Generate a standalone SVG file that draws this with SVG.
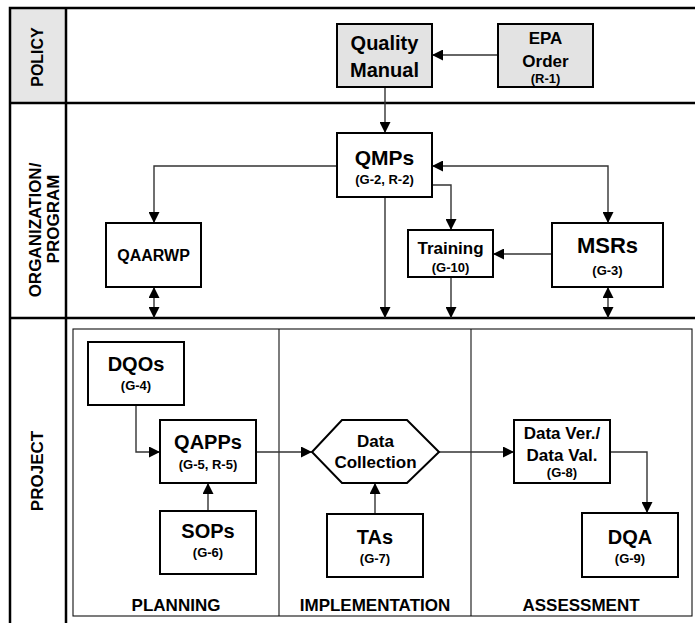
<svg xmlns="http://www.w3.org/2000/svg" width="695" height="623" viewBox="0 0 695 623">
<defs>
<marker id="ah" markerUnits="userSpaceOnUse" markerWidth="11" markerHeight="11" refX="10" refY="5" orient="auto-start-reverse" viewBox="0 0 10 10">
<path d="M0,0 L10,5 L0,10 z" fill="#000"/>
</marker>
<style>
.frame{fill:none;stroke:#000;stroke-width:2.5}
.inner{fill:none;stroke:#111;stroke-width:1.1}
.box{fill:#fff;stroke:#000;stroke-width:2}
.grey{fill:#e3e3e3;stroke:#000;stroke-width:2}
.con{fill:none;stroke:#333;stroke-width:1.4}
.end{marker-end:url(#ah)}
.both{marker-start:url(#ah);marker-end:url(#ah)}
text{font-family:"Liberation Sans",Arial,sans-serif;font-weight:bold;fill:#000;text-anchor:middle}
.t20{font-size:20px}
.t17{font-size:17px}
.t16{font-size:16px}
.t13{font-size:13px}
.lab{font-size:17px}
</style>
</defs>

<g id="frame">
<rect x="10" y="8" width="56" height="95" fill="#e6e6e6"/>
<rect class="frame" x="10" y="8" width="700" height="640"/>
<line class="frame" x1="66" y1="8" x2="66" y2="623"/>
<line class="frame" x1="10" y1="103" x2="695" y2="103"/>
<line class="frame" x1="10" y1="318" x2="695" y2="318"/>
<rect class="inner" x="73" y="329" width="619" height="287"/>
<line class="inner" x1="279" y1="329" x2="279" y2="616"/>
<line class="inner" x1="471" y1="329" x2="471" y2="616"/>
<text class="t16" transform="translate(43,57) rotate(-90)">POLICY</text>
<text class="lab" transform="translate(41,230) rotate(-90)">ORGANIZATION/</text>
<text class="lab" transform="translate(59,219) rotate(-90)">PROGRAM</text>
<text class="lab" transform="translate(43,471) rotate(-90)">PROJECT</text>
<text class="lab" x="176" y="611">PLANNING</text>
<text class="lab" x="375" y="611">IMPLEMENTATION</text>
<text class="lab" x="581" y="611">ASSESSMENT</text>
</g>

<g id="connectors">
<path class="con end" d="M498,55 H432"/>
<path class="con end" d="M385,87 V133"/>
<path class="con end" d="M337,166 H154 V223"/>
<path class="con both" d="M154,287 V318"/>
<path class="con both" d="M432,166 H608 V223"/>
<path class="con end" d="M432,185 H451 V230"/>
<path class="con end" d="M552,254 H493"/>
<path class="con end" d="M385,197 V318"/>
<path class="con end" d="M451,277 V318"/>
<path class="con both" d="M608,287 V318"/>
<path class="con end" d="M136,405 V452 H160"/>
<path class="con end" d="M208,511 V483"/>
<path class="con end" d="M256,452 H312"/>
<path class="con end" d="M375,514 V483"/>
<path class="con end" d="M439,452 H514"/>
<path class="con end" d="M610,452 H647 V513"/>
</g>

<g id="quality-manual">
<rect class="grey" x="337" y="24" width="95" height="63"/>
<text class="t20" x="384.5" y="50">Quality</text>
<text class="t20" x="384.5" y="77">Manual</text>
</g>
<g id="epa-order">
<rect class="grey" x="498" y="24" width="95" height="63"/>
<text class="t17" x="545.5" y="44">EPA</text>
<text class="t17" x="545.5" y="67">Order</text>
<text class="t13" x="545.5" y="83">(R-1)</text>
</g>
<g id="qmps">
<rect class="box" x="337" y="133" width="95" height="64"/>
<text class="t20" x="384.5" y="165" style="font-size:21px">QMPs</text>
<text class="t13" x="384.5" y="184">(G-2, R-2)</text>
</g>
<g id="qaarwp">
<rect class="box" x="106" y="223" width="95" height="64"/>
<text class="t16" x="153.5" y="261">QAARWP</text>
</g>
<g id="training">
<rect class="box" x="408" y="230" width="85" height="47"/>
<text class="t17" x="450.5" y="254">Training</text>
<text class="t13" x="450.5" y="272">(G-10)</text>
</g>
<g id="msrs">
<rect class="box" x="552" y="223" width="111" height="64"/>
<text class="t20" x="607.5" y="253" style="font-size:22px">MSRs</text>
<text class="t13" x="607.5" y="275">(G-3)</text>
</g>
<g id="dqos">
<rect class="box" x="88" y="342" width="96" height="63"/>
<text class="t20" x="136" y="371">DQOs</text>
<text class="t13" x="136" y="390">(G-4)</text>
</g>
<g id="qapps">
<rect class="box" x="160" y="420" width="96" height="63"/>
<text class="t20" x="208" y="449">QAPPs</text>
<text class="t13" x="208" y="469">(G-5, R-5)</text>
</g>
<g id="sops">
<rect class="box" x="160" y="511" width="96" height="63"/>
<text class="t20" x="208" y="538">SOPs</text>
<text class="t13" x="208" y="557">(G-6)</text>
</g>
<g id="data-collection">
<polygon class="box" points="312,452 342,420 407,420 439,452 407,483 342,483"/>
<text class="t17" x="375.5" y="447">Data</text>
<text class="t17" x="375.5" y="468">Collection</text>
</g>
<g id="tas">
<rect class="box" x="327" y="514" width="96" height="63"/>
<text class="t20" x="375" y="544">TAs</text>
<text class="t13" x="375" y="563">(G-7)</text>
</g>
<g id="data-ver">
<rect class="box" x="514" y="420" width="96" height="63"/>
<text class="t17" x="562" y="439">Data Ver./</text>
<text class="t17" x="562" y="461">Data Val.</text>
<text class="t13" x="562" y="477">(G-8)</text>
</g>
<g id="dqa">
<rect class="box" x="582" y="513" width="96" height="64"/>
<text class="t20" x="630" y="544">DQA</text>
<text class="t13" x="630" y="563">(G-9)</text>
</g>
</svg>
